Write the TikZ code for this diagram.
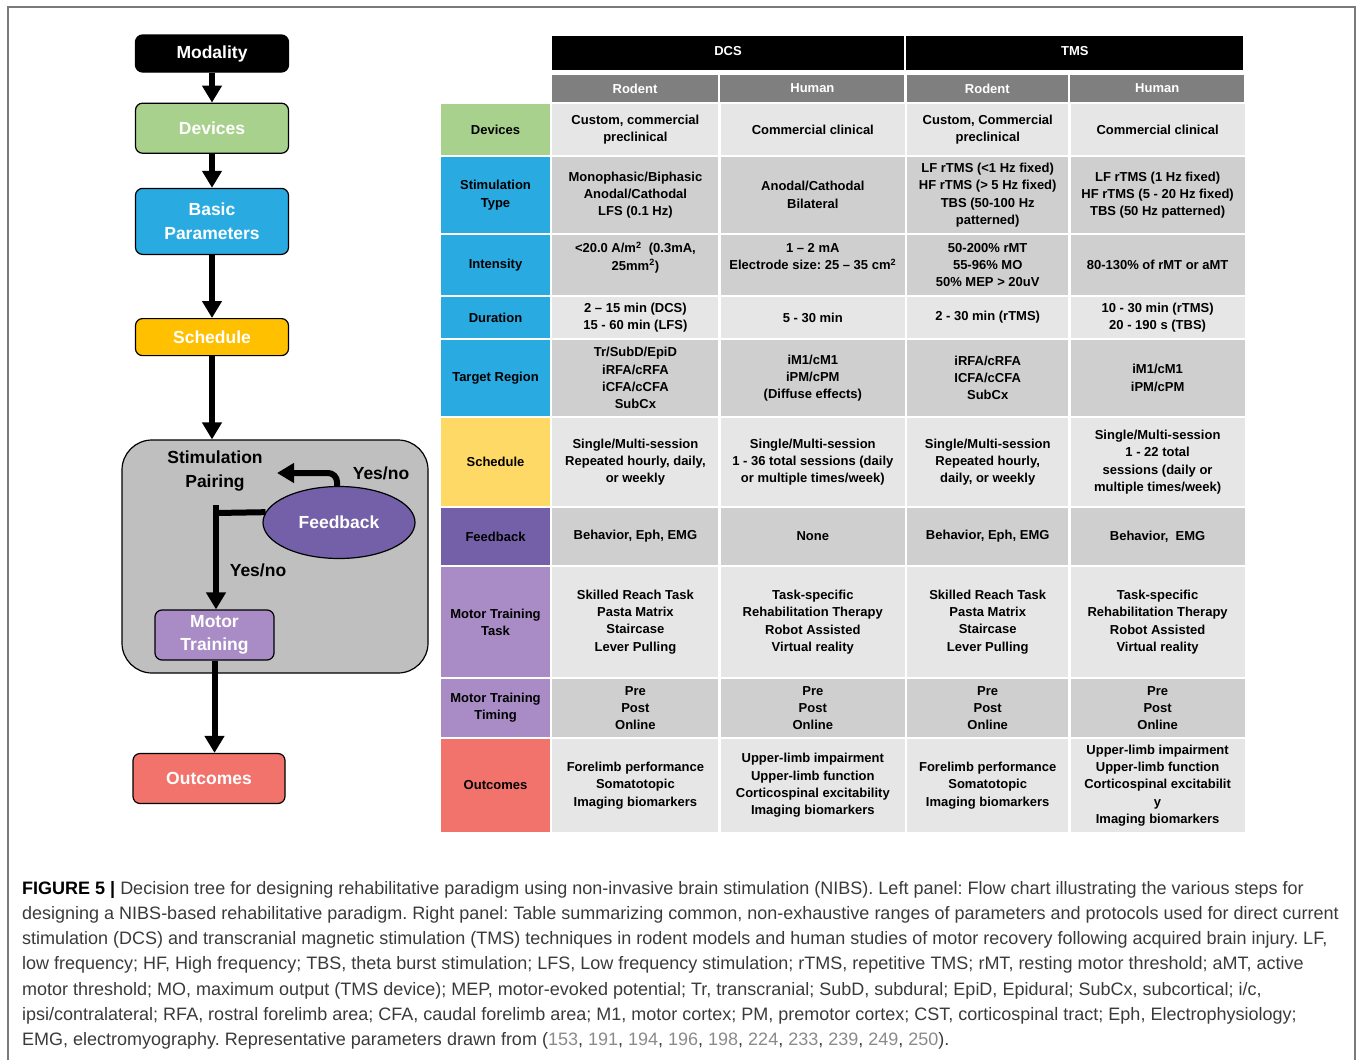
\documentclass[tikz,border=0pt]{standalone}
\usepackage{fontspec}
\setmainfont{Liberation Sans}
\newfontfamily\capfamily{Liberation Sans}
\usetikzlibrary{positioning,arrows.meta,shapes.geometric}
\frenchspacing

\definecolor{devgreen}{HTML}{A9D18E}
\definecolor{parblue}{HTML}{29ABE2}
\definecolor{schedyel}{HTML}{FFC000}
\definecolor{tabyel}{HTML}{FFD966}
\definecolor{fbpurple}{HTML}{7360A8}
\definecolor{mtlilac}{HTML}{A98CC5}
\definecolor{outred}{HTML}{F2736B}
\definecolor{pairgray}{HTML}{BFBFBF}
\definecolor{hdrgray}{HTML}{7F7F7F}
\definecolor{celllight}{HTML}{E6E6E6}
\definecolor{celldark}{HTML}{D0CFCF}
\definecolor{captext}{HTML}{3A3A3A}
\definecolor{refgray}{HTML}{8A8A8A}
\definecolor{framegray}{HTML}{7A7A7A}

\newcommand\flowfont{\fontsize{17.5}{23.5}\selectfont\bfseries}
\newcommand\tabfont{\fontsize{13}{17.3}\selectfont\bfseries}
\newcommand\capfont{\capfamily\fontsize{18}{25.2}\selectfont}

\begin{document}
\begin{tikzpicture}[x=1pt,y=-1pt,
  box/.style={draw=black,line width=1.2pt,rounded corners=7pt,text=white,
    font=\flowfont,align=center,inner sep=0pt,minimum width=153pt},
  arr/.style={line width=6pt,-{Triangle[width=19pt,length=17pt]}},
  bar/.style={line width=6pt},
  plain/.style={font=\flowfont,align=center,inner sep=0pt},
  hdr/.style={fill=black,text=white,font=\tabfont,inner sep=0pt,
    minimum height=34pt},
  sub/.style={fill=hdrgray,text=white,font=\tabfont,inner sep=0pt,
    minimum height=27pt},
  lab/.style={font=\tabfont,align=center,inner sep=0pt,minimum width=109pt},
  cell/.style={font=\tabfont,align=center,inner sep=0pt},
  ca/.style={cell,minimum width=166pt},
  cb/.style={cell,minimum width=184pt},
  cc/.style={cell,minimum width=161pt},
  cd/.style={cell,minimum width=174pt}]

\useasboundingbox (0,0) rectangle (1357,1060);
\draw[framegray,line width=2pt] (8,1060) -- (8,7) -- (1355,7) -- (1355,1060);

% flow chart
\node[box,fill=black,minimum height=37pt] (mod) at (212,53.5) {Modality};
\node[box,fill=devgreen,minimum height=50pt,below=30pt of mod] (dev) {Devices};
\node[box,fill=parblue,minimum height=66pt,below=34pt of dev] (par) {Basic\\Parameters};
\node[box,fill=schedyel,minimum height=37pt,below=63pt of par] (sched) {Schedule};
\node[draw=black,line width=1.2pt,fill=pairgray,rounded corners=30pt,
  minimum width=306pt,minimum height=233pt] (pairbox) at (275,556.5) {};
\node[plain] (spair) at (215,471) {Stimulation\\Pairing};
\node[ellipse,draw=black,line width=1.2pt,fill=fbpurple,text=white,font=\flowfont,
  minimum width=152pt,minimum height=72pt,inner sep=0pt] (fb) at (339,522.5) {Feedback};
\node[box,fill=mtlilac,minimum width=119pt,minimum height=50pt] (mt) at (214.5,635) {Motor\\Training};
\node[box,fill=outred,minimum width=152pt,minimum height=50pt] (out) at (209,778.5) {Outcomes};
\node[plain] (yn1) at (381,473) {Yes/no};
\node[plain] (yn2) at (258,570) {Yes/no};
\coordinate (fbtip) at (277,473);
\coordinate (jn) at (216,513);
\coordinate (jtop) at (216,505);

\draw[arr] (mod.south) -- (mod.south |- dev.north);
\draw[arr] (dev.south) -- (dev.south |- par.north);
\draw[arr] (par.south) -- (par.south |- sched.north);
\draw[arr] (sched.south) -- (sched.south |- pairbox.north);
\draw[arr,rounded corners=9pt] ([xshift=-2pt]fb.north) |- (fbtip);
\draw[bar] (fb.172) -- (jn);
\draw[arr] (jtop) -- (jtop |- mt.north);
\draw[arr] (mt.south) -- (mt.south |- out.north);

% table header
\node[hdr,minimum width=352pt] (dcs) at (728,53) {\raisebox{4pt}{DCS}};
\node[hdr,minimum width=337pt,right=2pt of dcs] (tms) {\raisebox{4pt}{TMS}};
\node[sub,minimum width=166pt] (hA) at (635,88.5) {Rodent};
\node[sub,minimum width=184pt,right=2pt of hA] (hB) {Human};
\node[sub,minimum width=161pt,right=2pt of hB] (hC) {Rodent};
\node[sub,minimum width=174pt,right=2pt of hC] (hD) {Human};

% table rows
\begin{scope}[nodes={minimum height=51pt,fill=celllight}]
\node[lab,fill=devgreen] (rDev) at (495.5,129.5) {Devices};
\node[ca,right=2pt of rDev] (rDevA) {Custom, commercial\\preclinical};
\node[cb,right=2pt of rDevA] (rDevB) {Commercial clinical};
\node[cc,right=2pt of rDevB] (rDevC) {Custom, Commercial\\preclinical};
\node[cd,right=2pt of rDevC] (rDevD) {Commercial clinical};
\end{scope}

\begin{scope}[nodes={minimum height=76pt,fill=celldark}]
\node[lab,fill=parblue] (rSt) at (495.5,195) {Stimulation\\Type};
\node[ca,right=2pt of rSt] (rStA) {Monophasic/Biphasic\\Anodal/Cathodal\\LFS (0.1 Hz)};
\node[cb,right=2pt of rStA] (rStB) {Anodal/Cathodal\\Bilateral};
\node[cc,right=2pt of rStB] (rStC) {LF rTMS (<1 Hz fixed)\\HF rTMS (> 5 Hz fixed)\\TBS (50-100 Hz\\patterned)};
\node[cd,right=2pt of rStC] (rStD) {LF rTMS (1 Hz fixed)\\HF rTMS (5 - 20 Hz fixed)\\TBS (50 Hz patterned)};
\end{scope}

\begin{scope}[nodes={minimum height=60pt,fill=celldark}]
\node[lab,fill=parblue] (rInt) at (495.5,265) {Intensity};
\node[ca,right=2pt of rInt] (rIntA) {<20.0 A/m\textsuperscript{2}\ \ (0.3mA,\\25mm\textsuperscript{2})\\\phantom{0}};
\node[cb,right=2pt of rIntA] (rIntB) {1 -- 2 mA\\Electrode size: 25 -- 35 cm\textsuperscript{2}\\\phantom{0}};
\node[cc,right=2pt of rIntB] (rIntC) {50-200\% rMT\\55-96\% MO\\50\% MEP > 20uV};
\node[cd,right=2pt of rIntC] (rIntD) {80-130\% of rMT or aMT};
\end{scope}

\begin{scope}[nodes={minimum height=41pt,fill=celllight}]
\node[lab,fill=parblue] (rDur) at (495.5,317.5) {Duration};
\node[ca,right=2pt of rDur] (rDurA) {2 -- 15 min (DCS)\\15 - 60 min (LFS)};
\node[cb,right=2pt of rDurA] (rDurB) {5 - 30 min};
\node[cc,right=2pt of rDurB] (rDurC) {2 - 30 min (rTMS)};
\node[cd,right=2pt of rDurC] (rDurD) {10 - 30 min (rTMS)\\20 - 190 s (TBS)};
\end{scope}

\begin{scope}[nodes={minimum height=76pt,fill=celldark}]
\node[lab,fill=parblue] (rTar) at (495.5,378) {Target Region};
\node[ca,right=2pt of rTar] (rTarA) {Tr/SubD/EpiD\\iRFA/cRFA\\iCFA/cCFA\\SubCx};
\node[cb,right=2pt of rTarA] (rTarB) {iM1/cM1\\iPM/cPM\\(Diffuse effects)};
\node[cc,right=2pt of rTarB] (rTarC) {iRFA/cRFA\\ICFA/cCFA\\SubCx};
\node[cd,right=2pt of rTarC] (rTarD) {iM1/cM1\\iPM/cPM};
\end{scope}

\begin{scope}[nodes={minimum height=88pt,fill=celllight}]
\node[lab,fill=tabyel] (rSch) at (495.5,462) {Schedule};
\node[ca,right=2pt of rSch] (rSchA) {Single/Multi-session\\Repeated hourly, daily,\\or weekly};
\node[cb,right=2pt of rSchA] (rSchB) {Single/Multi-session\\1 - 36 total sessions (daily\\or multiple times/week)};
\node[cc,right=2pt of rSchB] (rSchC) {Single/Multi-session\\Repeated hourly,\\daily, or weekly};
\node[cd,right=2pt of rSchC] (rSchD) {Single/Multi-session\\1 - 22 total\\sessions (daily or\\multiple times/week)};
\end{scope}

\begin{scope}[nodes={minimum height=57pt,fill=celldark}]
\node[lab,fill=fbpurple] (rFb) at (495.5,536.5) {Feedback};
\node[ca,right=2pt of rFb] (rFbA) {Behavior, Eph, EMG};
\node[cb,right=2pt of rFbA] (rFbB) {None};
\node[cc,right=2pt of rFbB] (rFbC) {Behavior, Eph, EMG};
\node[cd,right=2pt of rFbC] (rFbD) {Behavior,\ \ EMG};
\end{scope}

\begin{scope}[nodes={minimum height=110pt,fill=celllight}]
\node[lab,fill=mtlilac] (rTask) at (495.5,622) {Motor Training\\Task};
\node[ca,right=2pt of rTask] (rTaskA) {Skilled Reach Task\\Pasta Matrix\\Staircase\\Lever Pulling};
\node[cb,right=2pt of rTaskA] (rTaskB) {Task-specific\\Rehabilitation Therapy\\Robot Assisted\\Virtual reality};
\node[cc,right=2pt of rTaskB] (rTaskC) {Skilled Reach Task\\Pasta Matrix\\Staircase\\Lever Pulling};
\node[cd,right=2pt of rTaskC] (rTaskD) {Task-specific\\Rehabilitation Therapy\\Robot Assisted\\Virtual reality};
\end{scope}

\begin{scope}[nodes={minimum height=58pt,fill=celldark}]
\node[lab,fill=mtlilac] (rTim) at (495.5,708) {Motor Training\\Timing};
\node[ca,right=2pt of rTim] (rTimA) {Pre\\Post\\Online};
\node[cb,right=2pt of rTimA] (rTimB) {Pre\\Post\\Online};
\node[cc,right=2pt of rTimB] (rTimC) {Pre\\Post\\Online};
\node[cd,right=2pt of rTimC] (rTimD) {Pre\\Post\\Online};
\end{scope}

\begin{scope}[nodes={minimum height=93pt,fill=celllight}]
\node[lab,fill=outred] (rOut) at (495.5,785.5) {Outcomes};
\node[ca,right=2pt of rOut] (rOutA) {Forelimb performance\\Somatotopic\\Imaging biomarkers};
\node[cb,right=2pt of rOutA] (rOutB) {Upper-limb impairment\\Upper-limb function\\Corticospinal excitability\\Imaging biomarkers};
\node[cc,right=2pt of rOutB] (rOutC) {Forelimb performance\\Somatotopic\\Imaging biomarkers};
\node[cd,right=2pt of rOutC] (rOutD) {Upper-limb impairment\\Upper-limb function\\Corticospinal excitabilit\\y\\Imaging biomarkers};
\end{scope}

% caption
\node[anchor=north west,align=left,inner sep=0pt,font=\capfont,text=captext] (cap) at (22,881)
 {\textcolor{black}{\textbf{FIGURE 5 |}} Decision tree for designing rehabilitative paradigm using non-invasive brain stimulation (NIBS). Left panel: Flow chart illustrating the various steps for\\
  designing a NIBS-based rehabilitative paradigm. Right panel: Table summarizing common, non-exhaustive ranges of parameters and protocols used for direct current\\
  stimulation (DCS) and transcranial magnetic stimulation (TMS) techniques in rodent models and human studies of motor recovery following acquired brain injury. LF,\\
  low frequency; HF, High frequency; TBS, theta burst stimulation; LFS, Low frequency stimulation; rTMS, repetitive TMS; rMT, resting motor threshold; aMT, active\\
  motor threshold; MO, maximum output (TMS device); MEP, motor-evoked potential; Tr, transcranial; SubD, subdural; EpiD, Epidural; SubCx, subcortical; i/c,\\
  ipsi/contralateral; RFA, rostral forelimb area; CFA, caudal forelimb area; M1, motor cortex; PM, premotor cortex; CST, corticospinal tract; Eph, Electrophysiology;\\
  EMG, electromyography. Representative parameters drawn from (\textcolor{refgray}{153}, \textcolor{refgray}{191}, \textcolor{refgray}{194}, \textcolor{refgray}{196}, \textcolor{refgray}{198}, \textcolor{refgray}{224}, \textcolor{refgray}{233}, \textcolor{refgray}{239}, \textcolor{refgray}{249}, \textcolor{refgray}{250}).};
\end{tikzpicture}
\end{document}
